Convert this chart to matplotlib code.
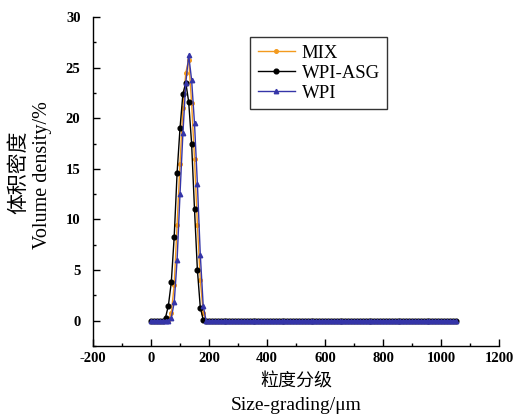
import numpy as np
import matplotlib
matplotlib.use("Agg")
import matplotlib.pyplot as plt
from matplotlib.ticker import MultipleLocator

plt.rcParams["axes.unicode_minus"] = False

# particle size grid (μm)
size_um = np.arange(0, 1051, 10)

# volume density (%) for each sample; non-zero only around the peak
mix_peak = [0.0, 0.0, 0.0, 0.0, 0.0, 0.0, 0.0, 0.8, 3.5, 9.5, 15.5, 21.0, 24.5, 25.8,
            21.5, 16.0, 9.5, 4.0, 0.8, 0.0]
asg_peak = [0.0, 0.0, 0.0, 0.0, 0.0, 0.3, 1.5, 3.8, 8.3, 14.6, 19.0, 22.4, 23.5, 21.6,
            17.5, 11.0, 5.0, 1.3, 0.1, 0.0]
wpi_peak = [0.0, 0.0, 0.0, 0.0, 0.0, 0.0, 0.0, 0.3, 1.8, 6.0, 12.5, 18.5, 23.5, 26.2,
            23.8, 19.5, 13.5, 6.5, 1.5, 0.0]

tail = [0.0] * (len(size_um) - len(mix_peak))
mix = np.array(mix_peak + tail)
wpi_asg = np.array(asg_peak + tail)
wpi = np.array(wpi_peak + tail)

series_names = ["MIX", "WPI-ASG", "WPI"]

serif = ["Liberation Serif", "DejaVu Serif"]
cjk = ["Noto Sans CJK SC", "DejaVu Sans"]

fig = plt.figure(figsize=(5.15, 4.19), dpi=100)
ax = fig.add_axes([93 / 515, 73 / 419, 406 / 515, 329 / 419])

ax.plot(size_um, mix, color="#F39A1E", marker="o", markersize=2.6, lw=1.0,
        label=series_names[0])
ax.plot(size_um, wpi_asg, color="black", marker="o", markersize=3.4, lw=1.0,
        label=series_names[1])
ax.plot(size_um, wpi, color="#3535A8", marker="^", markersize=3.2, lw=1.0,
        label=series_names[2])

ax.set_xlim(-200, 1200)
ax.set_ylim(-2.5, 30)
ax.xaxis.set_major_locator(MultipleLocator(200))
ax.xaxis.set_minor_locator(MultipleLocator(100))
ax.yaxis.set_major_locator(MultipleLocator(5))
ax.yaxis.set_minor_locator(MultipleLocator(2.5))

ax.spines["top"].set_visible(False)
ax.spines["right"].set_visible(False)
for s in ("left", "bottom"):
    ax.spines[s].set_linewidth(1.0)

ax.tick_params(which="major", direction="in", length=5, width=1.0)
ax.tick_params(which="minor", direction="in", length=2.5, width=1.0)
ax.tick_params(axis="y", which="major", pad=9)
ax.tick_params(axis="x", which="major", pad=4)
for lab in ax.get_xticklabels() + ax.get_yticklabels():
    lab.set_fontfamily(serif)
    lab.set_fontweight("bold")
    lab.set_fontsize(10.5)

leg = ax.legend(loc="upper left", bbox_to_anchor=(157 / 406, 309 / 329),
                borderaxespad=0, frameon=True, fancybox=False, edgecolor="black",
                handlelength=2.0, prop={"family": serif, "size": 13.5},
                borderpad=0.4, labelspacing=0.15, handletextpad=0.35)
leg.get_frame().set_linewidth(1.0)

# axis titles (Chinese line + English line)
fig.text(18 / 515, 1 - 172 / 419, "体积密度", rotation=90, ha="center", va="center",
         fontsize=15, family=cjk)
fig.text(43 / 515, 1 - 175 / 419, "Volume density/%", rotation=90, ha="center",
         va="center", fontsize=14.5, family=serif)
fig.text(296 / 515, 1 - 382 / 419, "粒度分级", ha="center", va="center",
         fontsize=13, family=cjk)
fig.text(296 / 515, 1 - 405 / 419, "Size-grading/μm", ha="center", va="center",
         fontsize=14, family=serif)

fig.savefig("out.png", dpi=100)
